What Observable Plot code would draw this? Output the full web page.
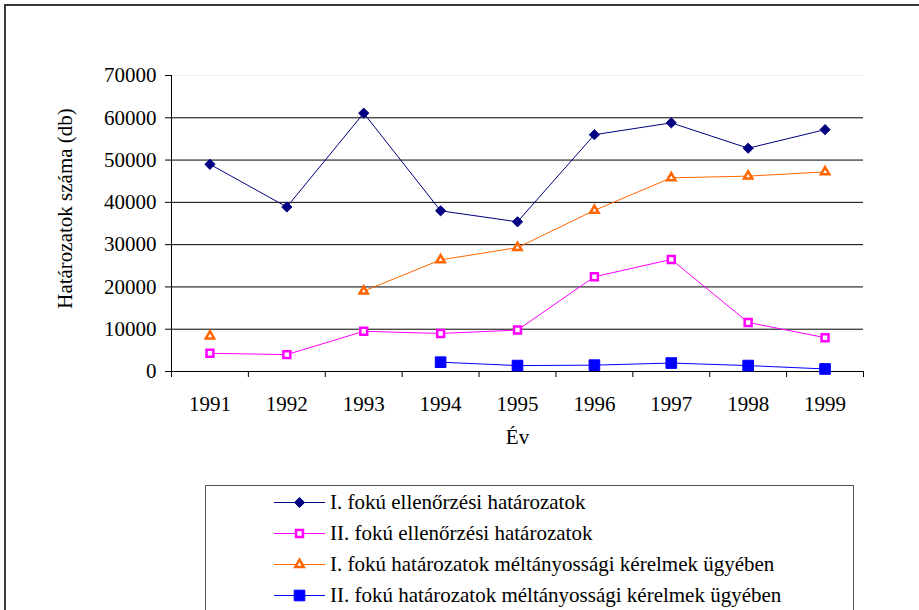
<!DOCTYPE html>
<html><head><meta charset="utf-8">
<script src="https://cdn.jsdelivr.net/npm/d3@7"></script>
<script src="https://cdn.jsdelivr.net/npm/@observablehq/plot@0.6"></script>
<style>
body{margin:0;background:#fff;}
#wrap{position:relative;width:919px;height:610px;overflow:hidden;font-family:"Liberation Serif","Times New Roman",serif;background:#fff;}
#chart{position:absolute;left:0;top:0;}
#frame{position:absolute;left:4px;top:4px;width:1000px;height:1000px;border-left:2px solid #3a3a3a;border-top:2px solid #3a3a3a;pointer-events:none;}
#legend{position:absolute;left:205px;top:485px;width:647px;height:300px;border:1px solid #555;background:#fff;}
.row{position:absolute;left:68px;height:31px;display:flex;align-items:center;font-size:21px;color:#000;white-space:nowrap;}
.row svg{margin-right:4px;}
</style></head><body>
<div id="wrap"><div id="chart"></div><div id="legend"></div><div id="frame"></div></div>
<script>
const years = [1991, 1992, 1993, 1994, 1995, 1996, 1997, 1998, 1999];
const seriesNames = [
  "I. fokú ellenőrzési határozatok",
  "II. fokú ellenőrzési határozatok",
  "I. fokú határozatok méltányossági kérelmek ügyében",
  "II. fokú határozatok méltányossági kérelmek ügyében"
];
const seriesColors = ["#000080", "#FF00FF", "#FF6600", "#0000FF"];
const s1 = [49000, 38900, 61100, 38000, 35400, 56000, 58800, 52800, 57200];
const s2 = [4300, 4000, 9500, 9000, 9800, 22400, 26500, 11600, 8000];
const s3 = [8400, null, 19000, 26400, 29300, 38100, 45800, 46200, 47200];
const s4 = [null, null, null, 2200, 1400, 1500, 2000, 1400, 600];
const yTicks = [0, 10000, 20000, 30000, 40000, 50000, 60000, 70000];
const xLabel = "Év";
const yLabel = "Határozatok száma (db)";

const allSeries = [s1, s2, s3, s4];
const symbolDefs = [
  {symbol: "diamond2", r: 4.6, fill: true, sw: 1},
  {symbol: "square", r: 3.9, fill: false, sw: 2.5},
  {symbol: "triangle", r: 3.1, fill: false, sw: 2.5},
  {symbol: "square", r: 6, fill: true, sw: 1}
];
const data = allSeries.map((s, k) => years.map((yr, i) => ({year: yr, value: s[i] == null ? undefined : s[i], k})));
const boundaries = years.map(y => y - 0.5).concat([years[years.length - 1] + 0.5]);
const font = "Liberation Serif, Times New Roman, serif";

const marks = [
  Plot.ruleY(yTicks.filter(v => v > 0 && v < 70000), {stroke: "#000", strokeWidth: 1}),
  Plot.ruleY([70000], {stroke: "#eeeeee", strokeWidth: 1}),
  Plot.ruleX([boundaries[0]], {stroke: "#000"}),
  Plot.ruleY([0], {stroke: "#000"}),
  Plot.axisY(yTicks, {tickSize: 6, tickPadding: 9, fontSize: 21, tickFormat: d => String(d), label: null, stroke: "#000", fill: "#000"}),
  Plot.axisX(boundaries, {tickSize: 6, tickFormat: () => "", label: null, stroke: "#000"}),
  Plot.axisX(years, {tickSize: 0, tickPadding: 25, fontSize: 21, tickFormat: d => String(d), label: null, fill: "#000"}),
  Plot.text([xLabel], {frameAnchor: "bottom", dy: 72, fontSize: 21, fill: "#000"}),
  Plot.text([yLabel], {frameAnchor: "left", textAnchor: "middle", dx: -106, dy: -15, rotate: -90, fontSize: 21, fill: "#000"})
];
data.forEach((d, k) => {
  const sd = symbolDefs[k];
  marks.push(Plot.line(d, {x: "year", y: "value", stroke: seriesColors[k], strokeWidth: 1}));
  marks.push(Plot.dot(d, {x: "year", y: "value", symbol: sd.symbol, r: sd.r,
    fill: sd.fill ? seriesColors[k] : "#fff", stroke: seriesColors[k], strokeWidth: sd.sw}));
});

const chart = Plot.plot({
  width: 919, height: 610,
  marginLeft: 171, marginRight: 56, marginTop: 75, marginBottom: 239,
  style: {fontFamily: font, background: "transparent", color: "#000"},
  x: {type: "linear", domain: [boundaries[0], boundaries[boundaries.length - 1]], axis: null},
  y: {type: "linear", domain: [0, 70000], axis: null},
  marks
});
document.getElementById("chart").appendChild(chart);

// legend
const leg = document.getElementById("legend");
const symMap = {diamond2: d3.symbolDiamond2, square: d3.symbolSquare, triangle: d3.symbolTriangle};
seriesNames.forEach((name, k) => {
  const sd = symbolDefs[k];
  const row = document.createElement("div");
  row.className = "row";
  row.style.top = (1 + k * 31) + "px";
  const svg = d3.create("svg").attr("width", 52).attr("height", 31);
  svg.append("line").attr("x1", 0).attr("x2", 51).attr("y1", 15.5).attr("y2", 15.5).attr("stroke", seriesColors[k]).attr("stroke-width", 1);
  svg.append("path").attr("transform", "translate(25.5,15.5)")
    .attr("d", d3.symbol(symMap[sd.symbol], Math.PI * sd.r * sd.r)())
    .attr("fill", sd.fill ? seriesColors[k] : "#fff").attr("stroke", seriesColors[k]).attr("stroke-width", sd.sw);
  row.appendChild(svg.node());
  const span = document.createElement("span");
  span.textContent = name;
  row.appendChild(span);
  leg.appendChild(row);
});
</script>
</body></html>
